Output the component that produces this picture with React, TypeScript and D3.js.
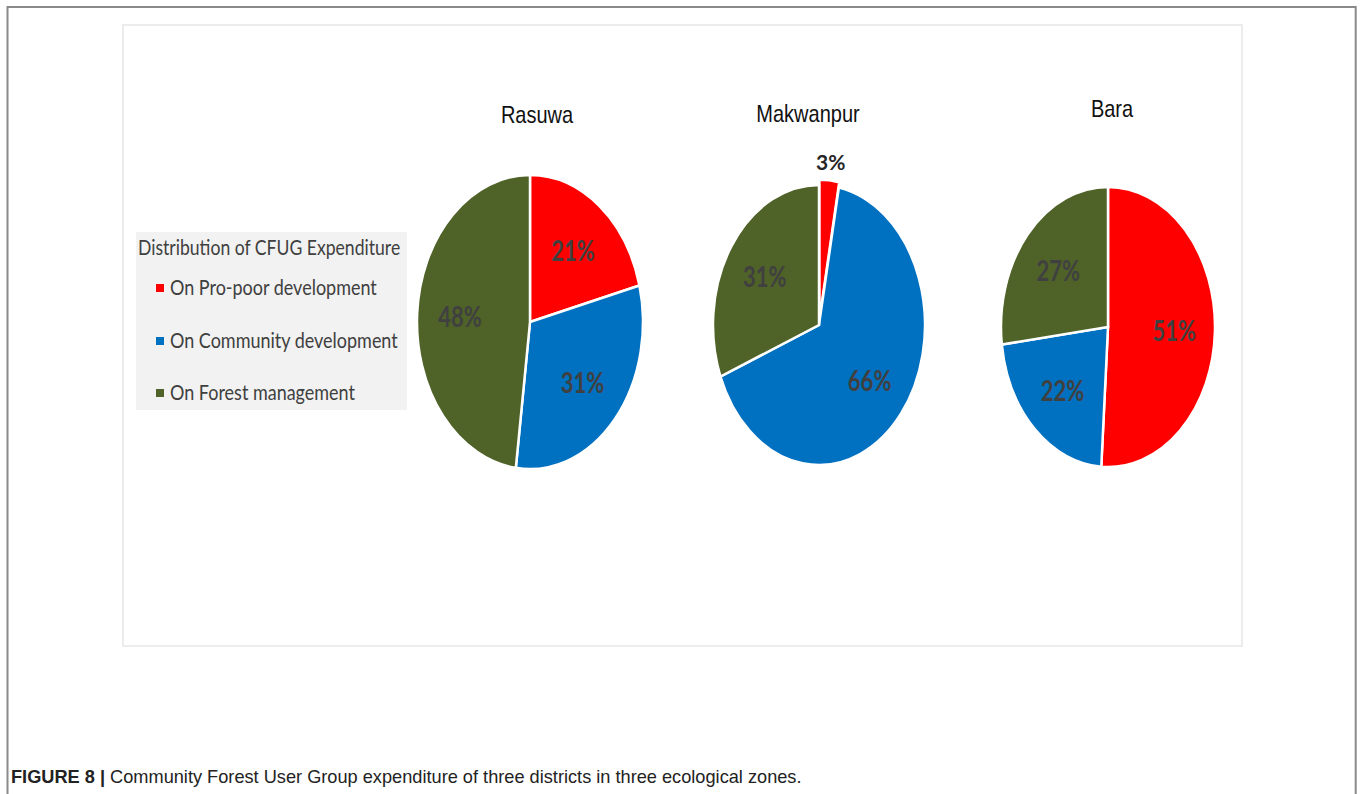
import React from "react";
import * as d3 from "d3";

const categories = ["On Pro-poor development", "On Community development", "On Forest management"];
const colors = ["#ff0000", "#0070c0", "#4f6228"];
const districts = ["Rasuwa", "Makwanpur", "Bara"];
const rasuwaValues = [21, 31, 48];
const makwanpurValues = [3, 66, 31];
const baraValues = [51, 22, 27];
const legendTitle = "Distribution of CFUG Expenditure";
const captionBold = "FIGURE 8 |";
const captionText = " Community Forest User Group expenditure of three districts in three ecological zones.";

const W = 1362;
const H = 794;

const pieLayouts = [
  { cx: 530, cy: 322, rx: 113, ry: 147, tx: 537, ty: 123, values: rasuwaValues },
  { cx: 819, cy: 325, rx: 106, ry: 140, tx: 808, ty: 122, values: makwanpurValues },
  { cx: 1108, cy: 327, rx: 107, ry: 140, tx: 1112, ty: 117, values: baraValues },
];

function Pie({ layout, name }: any) {
  const { cx, cy, rx, ry, tx, ty, values } = layout;
  const pie = d3.pie<number>().sort(null).value((d) => d);
  const arcs = pie(values);
  const arc = d3.arc<d3.PieArcDatum<number>>().innerRadius(0).outerRadius(rx);
  const k = ry / rx;
  return (
    <g>
      <text
        transform={`translate(${tx},${ty}) scale(1,1.22)`}
        textAnchor="middle"
        fontFamily="Liberation Sans, Arial, sans-serif"
        fontSize={20}
        fill="#111"
      >
        {name}
      </text>
      <g transform={`translate(${cx},${cy}) scale(1,${k})`}>
        {arcs.map((a, i) => {
          const mid = (a.startAngle + a.endAngle) / 2;
          const small = a.data < 5;
          const off = small ? 4 : 0;
          return (
            <path
              key={i}
              d={arc(a) as string}
              transform={`translate(${Math.sin(mid) * off},${-Math.cos(mid) * off})`}
              fill={colors[i]}
              stroke="#fff"
              strokeWidth={2.5}
              vectorEffect="non-scaling-stroke"
            />
          );
        })}
      </g>
      {arcs.map((a, i) => {
        const mid = (a.startAngle + a.endAngle) / 2;
        const small = a.data < 5;
        const f = small ? 1.17 : 0.62;
        const x = cx + Math.sin(mid) * rx * f;
        const y = cy - Math.cos(mid) * ry * f;
        return (
          <text
            key={i}
            transform={`translate(${x},${y}) scale(1,${small ? 1.0 : 1.28})`}
            textAnchor="middle"
            dominantBaseline="central"
            fontFamily="Lato, sans-serif"
            fontWeight={700}
            fontSize={small ? 21 : 22}
            fill={small ? "#262626" : "#404040"}
          >
            {a.data}%
          </text>
        );
      })}
    </g>
  );
}

export default function App() {
  const legendY = [288, 341, 393];
  return (
    <div style={{ position: "absolute", left: 0, top: 0 }}>
      <svg width={W} height={H} style={{ display: "block" }}>
        <rect x={0} y={0} width={W} height={H} fill="#fff" />
        <path d={`M7.5,${H} V7 H1355.7 V${H}`} fill="none" stroke="#8a8a8a" strokeWidth={2} />
        <rect x={123} y={25} width={1119} height={621} fill="#fff" stroke="#ececec" strokeWidth={2} />
        <rect x={136} y={232} width={271} height={178} fill="#f2f2f2" />
        <text
          transform={`translate(138,255) scale(1,1.2)`}
          fontFamily="Lato, sans-serif"
          fontSize={17.6}
          fill="#404040"
        >
          {legendTitle}
        </text>
        {categories.map((c, i) => (
          <g key={c}>
            <rect x={156} y={legendY[i] - 4} width={8} height={8} fill={colors[i]} />
            <text
              transform={`translate(170,${legendY[i] + 7}) scale(1,1.15)`}
              fontFamily="Lato, sans-serif"
              fontSize={18}
              fill="#404040"
            >
              {c}
            </text>
          </g>
        ))}
        {pieLayouts.map((l, i) => (
          <Pie key={districts[i]} layout={l} name={districts[i]} />
        ))}
        <text x={11} y={783} fontFamily="Liberation Sans, Arial, sans-serif" fontSize={18.2} fill="#222">
          <tspan fontWeight={700}>{captionBold}</tspan>
          <tspan>{captionText}</tspan>
        </text>
      </svg>
    </div>
  );
}
